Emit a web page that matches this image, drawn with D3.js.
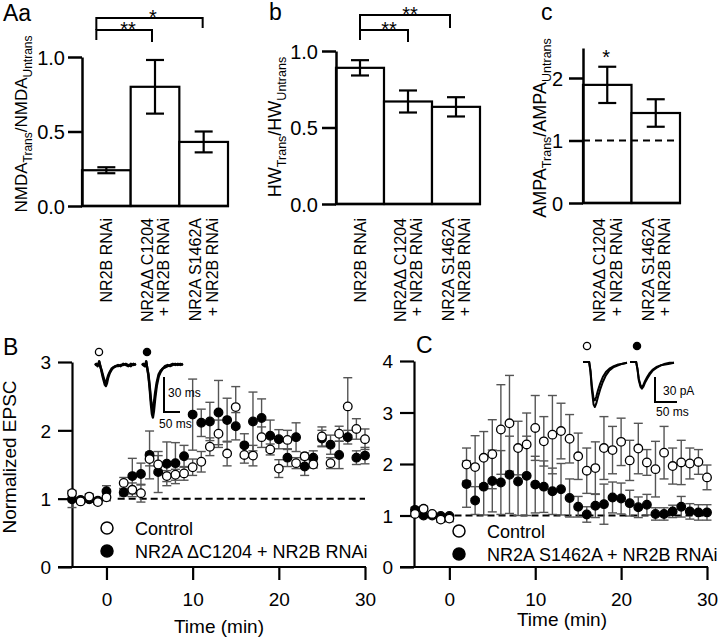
<!DOCTYPE html>
<html><head><meta charset="utf-8">
<script src="https://cdn.jsdelivr.net/npm/d3@7"></script>
<style>
body{margin:0;background:#fff}
svg{display:block}
text{font-family:"Liberation Sans",Arial,Helvetica,sans-serif;fill:#000}
</style>
</head><body>
<svg id="fig" width="720" height="638"></svg>
<script>
// ---------------- DATA ----------------
// Panel Aa: NMDA ratio
const catsNMDA = ["NR2B RNAi", "NR2AΔ C1204|+ NR2B RNAi", "NR2A S1462A|+ NR2B RNAi"];
const nmdaMean = [0.24, 0.80, 0.43];
const nmdaErr  = [0.02, 0.18, 0.07];
const nmdaTicks = [0, 0.5, 1.0];
// Panel b: half-width ratio
const catsHW = ["NR2B RNAi", "NR2AΔ C1204|+ NR2B RNAi", "NR2A S1462A|+ NR2B RNAi"];
const hwMean = [0.89, 0.67, 0.635];
const hwErr  = [0.05, 0.072, 0.063];
const hwTicks = [0, 0.5, 1.0];
// Panel c: AMPA ratio
const catsAMPA = ["NR2AΔ C1204|+ NR2B RNAi", "NR2A S1462A|+ NR2B RNAi"];
const ampaMean = [1.89, 1.44];
const ampaErr  = [0.29, 0.22];
const ampaTicks = [0, 1, 2];
// significance
const sigNMDA = [{a:0, b:1, label:"**"}, {a:0, b:2, label:"*"}];
const sigHW   = [{a:0, b:1, label:"**"}, {a:0, b:2, label:"**"}];
const sigAMPA = ["*", ""];

// Panel B time course
const timeB = [-4,-3,-2,-1,0,2,3,4,5,6,7,8,9,10,11,12,13,14,15,16,17,18,19,20,21,22,23,24,25,26,27,28,29,30];
const ctrlB = [1.08,0.96,1.03,0.95,1.02,1.23,1.13,1.08,1.58,1.50,1.33,1.35,1.37,1.46,1.54,1.76,1.95,1.66,2.34,1.64,1.63,1.90,1.72,1.44,1.86,1.52,1.62,1.50,1.91,1.52,1.95,2.35,2.02,1.87];
const ctrlBErr = [0.04,0.03,0.04,0.03,0.05,0.08,0.10,0.13,0.10,0.13,0.08,0.08,0.10,0.12,0.15,0.13,0.20,0.18,0.30,0.12,0.15,0.15,0.08,0.13,0.14,0.08,0.05,0.05,0.14,0.08,0.11,0.42,0.15,0.15];
const mutB = [0.99,0.98,0.99,0.97,1.11,1.09,1.33,1.36,1.64,1.39,1.51,1.52,1.62,2.23,2.11,2.13,2.26,2.15,2.06,1.78,2.13,2.18,1.92,1.87,1.60,1.90,1.47,1.60,1.88,1.79,1.64,1.90,1.60,1.63];
const mutBErr = [0.12,0.04,0.04,0.04,0.08,0.05,0.26,0.16,0.35,0.30,0.32,0.30,0.16,0.52,0.20,0.28,0.47,0.32,0.20,0.17,0.43,0.28,0.23,0.14,0.13,0.21,0.13,0.10,0.12,0.14,0.20,0.10,0.10,0.12];
// Panel C time course
const timeC = [-4,-3,-2,-1,0,2,3,4,5,6,7,8,9,10,11,12,13,14,15,16,17,18,19,20,21,22,23,24,25,26,27,28,29,30];
const ctrlC = [1.03,1.13,1.03,0.92,0.94,1.99,1.94,2.12,2.19,2.67,2.79,2.31,2.38,2.70,2.44,2.57,2.64,2.49,2.15,1.87,1.92,2.31,2.27,2.43,2.07,2.30,2.03,1.90,2.22,1.96,2.03,2.01,2.04,1.74];
const ctrlCErr = [0.05,0.05,0.03,0.05,0.06,0.32,0.61,0.51,0.67,0.87,0.93,0.52,0.61,0.63,0.48,0.76,0.54,0.47,0.45,0.44,0.51,0.61,0.46,0.46,0.39,0.49,0.25,0.54,0.51,0.35,0.43,0.30,0.24,0.24];
const mutC = [1.11,1.00,1.00,0.99,0.99,1.61,1.29,1.56,1.67,1.64,1.79,1.66,1.77,1.60,1.56,1.47,1.51,1.34,1.17,1.02,1.19,1.22,1.35,1.33,1.24,1.16,1.21,1.03,1.03,1.08,1.17,1.08,1.06,1.06];
const mutCErr = [0.05,0.04,0.03,0.03,0.03,0.45,0.27,0.55,0.60,0.62,0.75,0.66,0.77,0.55,0.50,0.45,0.50,0.37,0.20,0.15,0.23,0.39,0.30,0.30,0.25,0.20,0.20,0.12,0.12,0.12,0.20,0.15,0.15,0.15];
const timeTicks = [0, 10, 20, 30];
const legendB = ["Control", "NR2A ΔC1204 + NR2B RNAi"];
const legendC = ["Control", "NR2A S1462A + NR2B RNAi"];

// Inset EPSC traces (ms, pA)
const traceTimeB = [0,4,8,11,13,16,20,24,28,31,34,37,41,46,52,58,65,72,80,88,96,104,112,120,128];
const ctrlPreB   = [0,1,-1,0,3,-1,-4,-8,-12,-14,-15,-13,-9,-6,-3,-2,-1,0,-1,1,0,-1,1,0,1];
const ctrlPostB  = [1,0,0,1,3,0,-5,-10,-14,-17,-18,-16,-11,-7,-4,-2,-1,-1,0,0,1,0,-1,1,0];
const mutPreB    = [0,1,0,-1,3,-2,-8,-18,-30,-36,-38,-33,-24,-15,-8,-5,-3,-1,0,-1,0,1,0,1,0];
const mutPostB   = [1,0,-1,0,3,-2,-9,-20,-34,-42,-45,-40,-29,-18,-10,-6,-3,-2,-1,0,1,0,1,0,1];
const traceTimeC = [0,8,14,17,20,24,27,30,34,39,45,52,60,70,80,90,100];
const ctrlPreC   = [0,0,0,-10,-28,-44,-46,-42,-34,-26,-18,-12,-8,-5,-3,-2,-1];
const ctrlPostC  = [0,0,0,-12,-33,-51,-54,-50,-42,-33,-24,-16,-10,-6,-4,-2,-1];
const mutPreC    = [0,0,0,-8,-20,-28,-30,-28,-23,-18,-13,-9,-6,-4,-2,-1,-1];
const mutPostC   = [0,0,0,-9,-22,-30,-32,-30,-25,-20,-15,-10,-7,-4,-3,-2,-1];

// ---------------- DRAW ----------------
const svg = d3.select("#fig");
svg.append("rect").attr("width",720).attr("height",638).attr("fill","#fff");

function styleAxis(g, fs, sw){
  g.attr("font-family",null).attr("font-size",null);
  g.selectAll("text").attr("font-size",fs).attr("fill","#000");
  g.selectAll("line").attr("stroke","#000").attr("stroke-width",sw);
  g.selectAll(".domain").attr("stroke","#000").attr("stroke-width",sw);
}

function richLabel(x, y, parts, fs, sfs){
  const t = svg.append("text").attr("transform",`translate(${x},${y}) rotate(-90)`)
    .attr("text-anchor","middle").attr("font-size",fs);
  parts.forEach(p => {
    const s = t.append("tspan").text(p[0]);
    if (p[1]==="sub") s.attr("font-size",sfs).attr("dy",5);
    else if (p[1]==="up") s.attr("dy",-5);
  });
}

function barPanel(o){
  const x = d3.scaleBand().domain(o.cats).range(o.xr).padding(0);
  const y = d3.scaleLinear().domain(o.dom).range(o.yr);
  const g = svg.append("g");
  g.selectAll("rect.bar").data(o.mean).join("rect")
    .attr("x",(d,i)=>x(o.cats[i])).attr("width",x.bandwidth())
    .attr("y",d=>y(d)).attr("height",d=>y(0)-y(d))
    .attr("fill","#fff").attr("stroke","#000").attr("stroke-width",2.2);
  if (o.ref!=null){
    g.append("line").attr("x1",o.xr[0]).attr("x2",o.xr[1]).attr("y1",y(o.ref)).attr("y2",y(o.ref))
      .attr("stroke","#000").attr("stroke-width",2).attr("stroke-dasharray","7,5");
  }
  o.mean.forEach((m,i)=>{
    const cx = x(o.cats[i]) + x.bandwidth()/2, e = o.err[i], hw = 9;
    g.append("line").attr("x1",cx).attr("x2",cx).attr("y1",y(m-e)).attr("y2",y(m+e)).attr("stroke","#000").attr("stroke-width",2.2);
    [m-e,m+e].forEach(v=>g.append("line").attr("x1",cx-hw).attr("x2",cx+hw).attr("y1",y(v)).attr("y2",y(v)).attr("stroke","#000").attr("stroke-width",2.2));
  });
  const ga = svg.append("g").attr("transform",`translate(${o.xr[0]},0)`)
    .call(d3.axisLeft(y).tickValues(o.ticks).tickFormat(d3.format(o.fmt)).tickSize(14).tickSizeOuter(0).tickPadding(o.pad));
  styleAxis(ga, 20, 2.5);
  ga.selectAll("text").attr("dy","0.36em");
  svg.append("line").attr("x1",o.xr[0]-1).attr("x2",o.xr[1]+1).attr("y1",y(0)).attr("y2",y(0)).attr("stroke","#000").attr("stroke-width",2.6);
  o.cats.forEach((c,i)=>{
    const lines = c.split("|"), cx = x(c) + x.bandwidth()/2;
    lines.forEach((ln,j)=>{
      const bx = cx + (j-(lines.length-1)/2)*16.5 + 6;
      svg.append("text").attr("transform",`translate(${bx},218) rotate(-90)`).attr("text-anchor","end")
        .attr("font-size",16).text(ln);
    });
  });
  if (o.sig){
    o.sig.forEach((s,k)=>{
      const yl = o.sigY[k];
      const xa = x(o.cats[s.a]) + x.bandwidth()/2 + o.sigOff[0];
      const xb = x(o.cats[s.b]) + x.bandwidth()/2 + o.sigOff[s.b];
      const path = `M${xa},${o.sigLeftEnd[k]} V${yl} H${xb} V${o.sigRightEnd[k]}`;
      svg.append("path").attr("d",path).attr("fill","none").attr("stroke","#000").attr("stroke-width",2);
      svg.append("text").attr("x",o.starX[k]).attr("y",yl+6).attr("text-anchor","middle").attr("font-size",20).text(s.label);
    });
  }
  if (o.stars){
    o.stars.forEach((s,i)=>{
      if(!s) return;
      const cx = x(o.cats[i]) + x.bandwidth()/2;
      svg.append("text").attr("x",cx-1).attr("y",y(o.mean[i]+o.err[i])-3).attr("text-anchor","middle").attr("font-size",20).text(s);
    });
  }
  richLabel(o.lab.x, o.lab.y, o.lab.parts, o.lab.fs, o.lab.sfs);
  svg.append("text").attr("x",o.letter.x).attr("y",o.letter.y).attr("font-size",23).text(o.letter.t);
}

barPanel({cats:catsNMDA, mean:nmdaMean, err:nmdaErr, xr:[82,228], yr:[206,57], dom:[0,1],
  ticks:nmdaTicks, fmt:".1f", pad:3,
  sig:sigNMDA, sigY:[30,18], sigOff:[-10,-3,-1], sigLeftEnd:[40,30], sigRightEnd:[42,28], starX:[128,153],
  lab:{x:27, y:124, fs:17, sfs:12, parts:[["NMDA"],["Trans","sub"],["/NMDA","up"],["Untrans","sub"]]},
  letter:{t:"Aa", x:3, y:21}});
barPanel({cats:catsHW, mean:hwMean, err:hwErr, xr:[336,480], yr:[204,51], dom:[0,1],
  ticks:hwTicks, fmt:".1f", pad:4,
  sig:sigHW, sigY:[30,15], sigOff:[0,0,-6], sigLeftEnd:[40,30], sigRightEnd:[42,28], starX:[389,410],
  lab:{x:281, y:127, fs:18, sfs:12.5, parts:[["HW"],["Trans","sub"],["/HW","up"],["Untrans","sub"]]},
  letter:{t:"b", x:269, y:20}});
barPanel({cats:catsAMPA, mean:ampaMean, err:ampaErr, xr:[583,680], yr:[203,48], dom:[0,2.48],
  ticks:ampaTicks, fmt:"d", pad:6, ref:1, stars:sigAMPA,
  lab:{x:546, y:128, fs:18, sfs:12.5, parts:[["AMPA"],["Trans","sub"],["/AMPA","up"],["Untrans","sub"]]},
  letter:{t:"c", x:541, y:20}});

// ---------- time-course panels ----------
function scatterPanel(o){
  const x = d3.scaleLinear().domain([-4,30]).range(o.xr);
  const y = d3.scaleLinear().domain([0,o.ymax]).range([567,o.yTop]);
  const ax = o.axisX;
  svg.append("line").attr("x1",x(o.dashFrom)).attr("x2",x(30)).attr("y1",y(1)).attr("y2",y(1))
    .attr("stroke","#000").attr("stroke-width",2).attr("stroke-dasharray","7,4");
  const gy = svg.append("g").attr("transform",`translate(${ax},0)`)
    .call(d3.axisLeft(y).tickValues(o.yticks).tickFormat(d3.format("d")).tickSize(14).tickSizeOuter(0).tickPadding(7));
  styleAxis(gy, 19, 2.2);
  gy.selectAll("text").attr("dy","0.36em");
  const gx = svg.append("g").attr("transform",`translate(0,567)`)
    .call(d3.axisBottom(x).tickValues(timeTicks).tickFormat(d3.format("d")).tickSize(13).tickSizeOuter(0).tickPadding(13));
  styleAxis(gx, 19, 2.2);
  gx.select(".domain").remove();
  svg.append("line").attr("x1",ax-14).attr("x2",x(30)+1).attr("y1",567).attr("y2",567).attr("stroke","#000").attr("stroke-width",2.2);
  svg.append("text").attr("x",o.timeLab[0]).attr("y",o.timeLab[1]).attr("text-anchor","middle").attr("font-size",19).text("Time (min)");
  const series = [{v:o.mut, e:o.mutErr, fill:"#000"}, {v:o.ctrl, e:o.ctrlErr, fill:"#fff"}];
  series.forEach(s=>{
    s.v.forEach((v,i)=>{
      const cx = x(o.time[i]), e = s.e[i];
      const gg = svg.append("g").attr("stroke","#555").attr("stroke-width",1.4);
      gg.append("line").attr("x1",cx).attr("x2",cx).attr("y1",y(v-e)).attr("y2",y(v+e));
      [v-e,v+e].forEach(w=>gg.append("line").attr("x1",cx-4.5).attr("x2",cx+4.5).attr("y1",y(w)).attr("y2",y(w)));
    });
  });
  series.forEach(s=>{
    svg.append("g").selectAll("circle").data(s.v).join("circle")
      .attr("cx",(d,i)=>x(o.time[i])).attr("cy",d=>y(d)).attr("r",4.3)
      .attr("fill",s.fill).attr("stroke","#000").attr("stroke-width",1.3);
  });
  o.legend.forEach((t,i)=>{
    const ly = o.legPos[1] + i*23;
    svg.append("circle").attr("cx",o.legPos[0]).attr("cy",ly).attr("r",6)
      .attr("fill", i===0 ? "#fff" : "#000").attr("stroke","#000").attr("stroke-width",1.5);
    svg.append("text").attr("x",o.legPos[0]+28).attr("y",ly+6.5).attr("font-size",18).text(t);
  });
  svg.append("text").attr("x",o.letter.x).attr("y",o.letter.y).attr("font-size",23).text(o.letter.t);
}

scatterPanel({xr:[72,365], axisX:72, ymax:3, yTop:362, yticks:[0,1,2,3], dashFrom:1.3,
  time:timeB, ctrl:ctrlB, ctrlErr:ctrlBErr, mut:mutB, mutErr:mutBErr,
  legend:legendB, legPos:[107,528], timeLab:[219,633], letter:{t:"B", x:3, y:355}});
scatterPanel({xr:[415,707], axisX:414, ymax:4, yTop:361, yticks:[0,1,2,3,4], dashFrom:0.6,
  time:timeC, ctrl:ctrlC, ctrlErr:ctrlCErr, mut:mutC, mutErr:mutCErr,
  legend:legendC, legPos:[459,531], timeLab:[562,626], letter:{t:"C", x:416, y:353}});

svg.append("text").attr("transform","translate(16,457) rotate(-90)").attr("text-anchor","middle")
  .attr("font-size",19).text("Normalized EPSC");

// ---------- insets ----------
function inset(o){
  const tx = d3.scaleLinear().domain([0,50]).range([0,o.pxPer50ms]);
  const ty = d3.scaleLinear().domain([0,-30]).range([0,o.pxPer30pA]);
  o.traces.forEach(tr=>{
    const line = d3.line().x((d,i)=>tr.x0 + tx(o.time[i])).y(d=>o.base + ty(d));
    tr.ys.forEach(arr=>{
      svg.append("path").attr("d",line(arr)).attr("fill","none").attr("stroke","#000")
        .attr("stroke-width",o.sw).attr("stroke-linejoin","round");
    });
    svg.append("circle").attr("cx",tr.mx).attr("cy",o.my).attr("r",3.6)
      .attr("fill",tr.filled?"#000":"#fff").attr("stroke","#000").attr("stroke-width",1.3);
  });
  const sx = o.bar[0], sy = o.bar[1];
  svg.append("path").attr("d",`M${sx},${sy} V${sy+ty(-30)} H${sx+tx(50)}`).attr("fill","none").attr("stroke","#000").attr("stroke-width",2);
  svg.append("text").attr("x",o.lab1[0]).attr("y",o.lab1[1]).attr("font-size",12).text(o.vlabel);
  svg.append("text").attr("x",o.lab2[0]).attr("y",o.lab2[1]).attr("font-size",12).text("50 ms");
}
inset({time:traceTimeB, pxPer50ms:16, pxPer30pA:35, base:365, my:352, sw:2.4,
  traces:[{x0:95, ys:[ctrlPreB, ctrlPostB], mx:99, filled:false},
          {x0:142, ys:[mutPreB, mutPostB], mx:147, filled:true}],
  bar:[164,377], lab1:[168,397], lab2:[159,428], vlabel:"30 ms"});
inset({time:traceTimeC, pxPer50ms:22, pxPer30pA:25, base:362, my:346, sw:2,
  traces:[{x0:583, ys:[ctrlPreC, ctrlPostC], mx:587, filled:false},
          {x0:630, ys:[mutPreC, mutPostC], mx:637, filled:true}],
  bar:[655,377], lab1:[663,395], lab2:[656,416], vlabel:"30 pA"});
</script>
</body></html>
